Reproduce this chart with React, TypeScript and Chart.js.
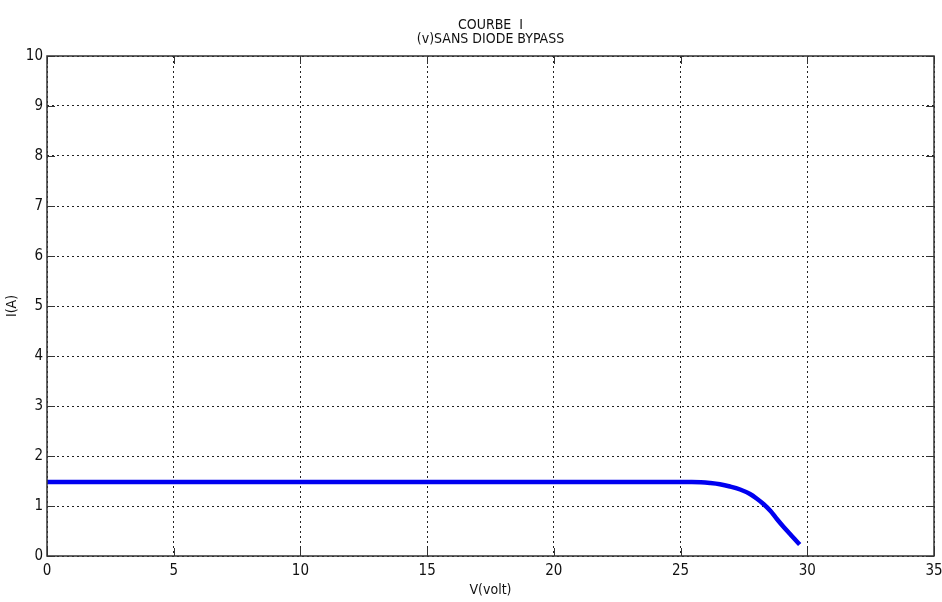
import React, { useEffect, useRef } from "react";
import { Chart, registerables } from "chart.js";

Chart.register(...registerables);

const titleLines = ["COURBE  I", "(v)SANS DIODE BYPASS"];
const xLabel = "V(volt)";
const yLabel = "I(A)";
const voltage = [0, 5, 10, 15, 20, 25, 25.44, 25.8, 26.16, 26.55, 26.95, 27.35, 27.74, 28.0, 28.27, 28.55, 28.8, 29.05, 29.32, 29.5, 29.7];
const current = [1.48, 1.48, 1.48, 1.48, 1.48, 1.48, 1.48, 1.475, 1.46, 1.435, 1.39, 1.33, 1.24, 1.15, 1.04, 0.9, 0.74, 0.59, 0.44, 0.34, 0.23];
const xMin = 0, xMax = 35, xStep = 5;
const yMin = 0, yMax = 10, yStep = 1;

const FONT = "'Liberation Sans Narrow', 'Arial Narrow', 'DejaVu Sans Condensed', 'Liberation Sans', Arial, sans-serif";

const boxPlugin = {
  id: "matlabBox",
  afterDraw(chart: any) {
    const { ctx, chartArea, scales } = chart;
    const { left, right, top, bottom } = chartArea;
    ctx.save();
    ctx.strokeStyle = "#333";
    ctx.lineWidth = 1.5;
    ctx.setLineDash([]);
    ctx.strokeRect(left, top, right - left, bottom - top);
    ctx.lineWidth = 1;
    const tl = 8;
    ctx.beginPath();
    scales.x.ticks.forEach((t: any) => {
      const px = Math.round(scales.x.getPixelForValue(t.value)) + 0.5;
      ctx.moveTo(px, bottom);
      ctx.lineTo(px, bottom - tl);
      ctx.moveTo(px, top);
      ctx.lineTo(px, top + tl);
    });
    scales.y.ticks.forEach((t: any) => {
      const py = Math.round(scales.y.getPixelForValue(t.value)) + 0.5;
      ctx.moveTo(left, py);
      ctx.lineTo(left + tl, py);
      ctx.moveTo(right, py);
      ctx.lineTo(right - tl, py);
    });
    ctx.stroke();
    // title centred on the plot area
    ctx.fillStyle = "#111";
    ctx.font = `14px ${FONT}`;
    ctx.textAlign = "center";
    ctx.textBaseline = "middle";
    const cx = (left + right) / 2;
    titleLines.forEach((line, i) => {
      ctx.fillText(line, cx, 25 + i * 14);
    });
    ctx.restore();
  },
};

export default function App() {
  const ref = useRef<HTMLCanvasElement | null>(null);
  useEffect(() => {
    if (!ref.current) return;
    const chart = new Chart(ref.current, {
      type: "scatter",
      data: {
        datasets: [
          {
            data: voltage.map((v, i) => ({ x: v, y: current[i] })),
            showLine: true,
            borderColor: "#0000f0",
            borderWidth: 4.5,
            pointRadius: 0,
            cubicInterpolationMode: "monotone",
            borderCapStyle: "butt",
          } as any,
        ],
      },
      options: {
        responsive: false,
        animation: false,
        layout: { padding: { left: 0, right: 0, top: 56, bottom: 0 } },
        plugins: {
          legend: { display: false },
          tooltip: { enabled: false },
          title: { display: false },
        },
        scales: {
          x: {
            type: "linear",
            min: xMin,
            max: xMax,
            ticks: { stepSize: xStep, color: "#111", padding: 6, font: { family: FONT, size: 15 } },
            grid: { color: "#222", lineWidth: 1, drawTicks: false },
            border: { display: false, dash: [2, 3] },
            title: {
              display: true,
              text: xLabel,
              color: "#111",
              font: { family: FONT, size: 14, lineHeight: 1 },
              padding: { top: 0, bottom: 5 },
            },
            afterFit: (s: any) => {
              s.height = 46;
              s.paddingRight = 8;
              s.paddingLeft = 0;
            },
          },
          y: {
            type: "linear",
            min: yMin,
            max: yMax,
            ticks: { stepSize: yStep, color: "#111", padding: 4, font: { family: FONT, size: 15 } },
            grid: { color: "#222", lineWidth: 1, drawTicks: false },
            border: { display: false, dash: [2, 3] },
            title: {
              display: true,
              text: yLabel,
              color: "#111",
              font: { family: FONT, size: 14, lineHeight: 1 },
              padding: { top: 5, bottom: 0 },
            },
            afterFit: (s: any) => {
              s.width = 47;
              s.paddingTop = 0;
              s.paddingBottom = 0;
            },
          },
        },
      },
      plugins: [boxPlugin],
    });
    return () => chart.destroy();
  }, []);
  return (
    <div style={{ position: "absolute", left: 0, top: 0, width: 942, height: 602, background: "#fff" }}>
      <canvas ref={ref} width={942} height={602} style={{ display: "block" }} />
    </div>
  );
}
